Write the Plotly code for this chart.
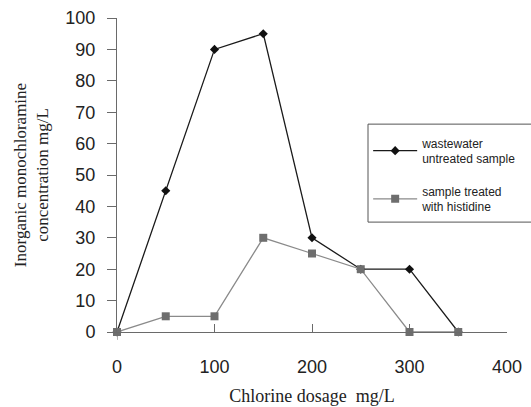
import plotly.graph_objects as go

dosage = [0, 50, 100, 150, 200, 250, 300, 350]
untreated = [0, 45, 90, 95, 30, 20, 20, 0]
treated = [0, 5, 5, 30, 25, 20, 0, 0]
x_ticks = [0, 100, 200, 300, 400]
y_ticks = [0, 10, 20, 30, 40, 50, 60, 70, 80, 90, 100]

fig = go.Figure()
fig.add_trace(go.Scatter(
    x=dosage, y=untreated, mode="lines+markers",
    name="wastewater<br>untreated sample", legendgroup="g1",
    line=dict(color="#1a1a1a", width=1.3),
    marker=dict(symbol="diamond", size=7, color="#111111"),
    cliponaxis=False,
))
fig.add_trace(go.Scatter(
    x=dosage, y=treated, mode="lines+markers",
    name="sample treated<br>with histidine", legendgroup="g2",
    line=dict(color="#8a8a8a", width=1.3),
    marker=dict(symbol="square", size=8, color="#6e6e6e"),
    cliponaxis=False,
))

fig.add_shape(type="line", xref="x", yref="paper", x0=0, x1=0, y0=0, y1=-0.025,
              line=dict(color="#6a6a6a", width=1))
# legend frame (extends past the right edge as in the reference)
fig.add_shape(type="rect", xref="paper", yref="paper", x0=0.6436, x1=1.1, y0=0.350, y1=0.662,
              line=dict(color="#555555", width=1), fillcolor="rgba(0,0,0,0)", layer="above")

fig.update_layout(
    width=531, height=407,
    margin=dict(l=117, r=24, t=18, b=75, autoexpand=False),
    paper_bgcolor="white", plot_bgcolor="white",
    font=dict(family="Liberation Sans, Arial", color="#222222"),
    showlegend=True,
    legend=dict(
        x=0.644, y=0.648, xanchor="left", yanchor="top",
        borderwidth=0, bgcolor="rgba(255,255,255,0)",
        font=dict(size=12, family="Liberation Sans, Arial", color="#222222"),
        tracegroupgap=14, itemwidth=44,
    ),
    xaxis=dict(
        range=[0, 400], tickvals=x_ticks, ticks="inside", ticklen=8,
        tickcolor="#6a6a6a", showline=True, linecolor="#6a6a6a", linewidth=1,
        showgrid=False, zeroline=False, ticklabelstandoff=18,
        tickfont=dict(size=18, family="Liberation Sans, Arial", color="#222222"),
        title=dict(text="Chlorine dosage  mg/L",
                   font=dict(size=18, family="Liberation Serif, Times New Roman", color="#222222"),
                   standoff=13),
    ),
    yaxis=dict(
        range=[0, 100], tickvals=y_ticks, ticks="outside", ticklen=9,
        tickcolor="#6a6a6a", showline=True, linecolor="#6a6a6a", linewidth=1,
        showgrid=False, zeroline=False, ticklabelstandoff=8,
        tickfont=dict(size=18, family="Liberation Sans, Arial", color="#222222"),
        title=dict(text="Inorganic monochloramine<br>concentration mg/L",
                   font=dict(size=17, family="Liberation Serif, Times New Roman", color="#222222"),
                   standoff=12),
    ),
)

fig.write_html("out.html")
